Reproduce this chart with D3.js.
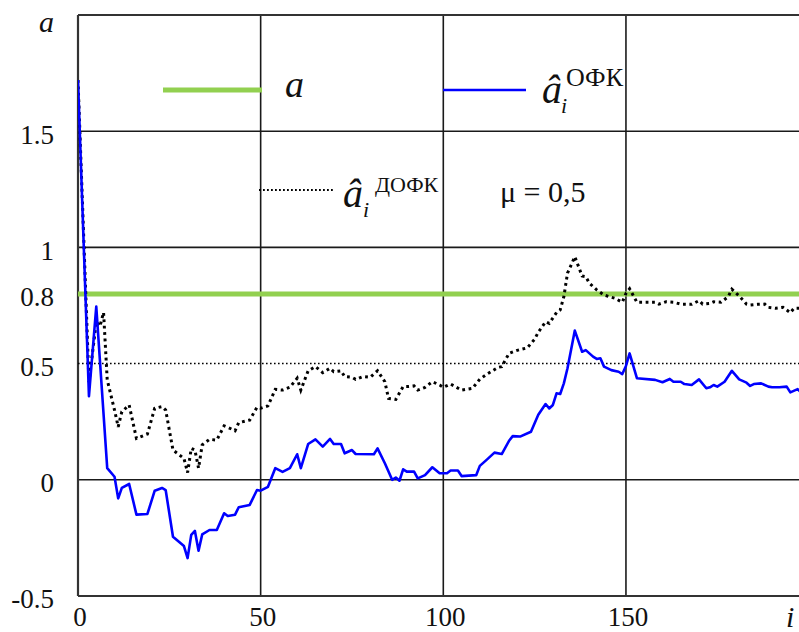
<!DOCTYPE html>
<html>
<head>
<meta charset="utf-8">
<script src="https://cdn.jsdelivr.net/npm/d3@7/dist/d3.min.js"></script>
<style>
  html, body { margin: 0; padding: 0; background: #fff; }
  svg { display: block; }
  svg text { font-family: "Liberation Serif", "Times New Roman", serif; fill: #111; }
</style>
</head>
<body>
<div id="chart"></div>
<script>
// ---- data ----
const ofkI = [0,3,5,8,10,11,12,14,16,19,21,23,24,26,29,30,31,32,33,34,36,38,40,41,43,44,47,49,50,52,54,56,58,60,61,63,65,67,69,70,72,73,75,76,81,82,84,86,87,88,89,90,92,93,95,97,99,101,102,104,105,109,110,112,114,116,118,119,121,124,126,128,129,130,131,132,133,134,136,138,139,141,142,143,144,146,148,149,150,151,153,158,160,162,163,165,166,168,170,172,173,174,175,177,179,181,183,184,185,187,189,190,192,194,195,197,198];
const ofkV = [1.72,0.36,0.745,0.05,0.013,-0.08,-0.035,-0.018,-0.15,-0.147,-0.047,-0.035,-0.044,-0.245,-0.285,-0.337,-0.237,-0.22,-0.305,-0.235,-0.216,-0.216,-0.144,-0.156,-0.15,-0.118,-0.108,-0.044,-0.047,-0.03,0.05,0.034,0.05,0.11,0.05,0.154,0.174,0.143,0.176,0.154,0.154,0.114,0.128,0.111,0.11,0.135,0.071,0.0,0.01,-0.004,0.045,0.035,0.035,0.006,0.02,0.054,0.028,0.028,0.04,0.04,0.016,0.02,0.06,0.088,0.117,0.111,0.168,0.188,0.186,0.207,0.28,0.326,0.307,0.322,0.372,0.369,0.415,0.48,0.642,0.551,0.558,0.53,0.52,0.523,0.487,0.472,0.465,0.455,0.49,0.544,0.437,0.43,0.42,0.434,0.422,0.422,0.412,0.408,0.432,0.394,0.398,0.408,0.401,0.422,0.469,0.432,0.418,0.404,0.412,0.415,0.401,0.398,0.398,0.401,0.376,0.39,0.375];

const dofkI = [0,3,5,6,7,8,9,10,11,12,14,16,19,21,23,24,26,29,30,31,32,33,34,36,38,40,41,43,44,47,49,50,52,54,56,58,60,61,63,65,67,69,70,72,73,75,76,78,80,82,84,85,87,89,90,92,93,95,97,99,100,102,105,108,110,112,115,116,118,120,123,125,126,128,129,131,132,133,134,136,138,139,140,142,144,147,149,150,151,153,158,159,161,163,165,168,170,171,173,174,176,178,179,181,183,184,186,188,189,191,193,195,196,198];
const dofkV = [1.72,0.42,0.68,0.66,0.72,0.43,0.365,0.3,0.228,0.293,0.322,0.178,0.197,0.308,0.315,0.3,0.128,0.092,0.031,0.135,0.128,0.05,0.15,0.174,0.171,0.232,0.226,0.211,0.246,0.257,0.312,0.308,0.318,0.389,0.386,0.398,0.437,0.386,0.469,0.487,0.461,0.48,0.465,0.469,0.444,0.441,0.432,0.444,0.441,0.469,0.422,0.35,0.346,0.401,0.401,0.404,0.386,0.398,0.422,0.408,0.398,0.412,0.386,0.394,0.433,0.455,0.484,0.487,0.544,0.556,0.568,0.605,0.635,0.68,0.673,0.72,0.731,0.788,0.889,0.96,0.877,0.874,0.846,0.817,0.795,0.781,0.764,0.802,0.822,0.764,0.764,0.756,0.766,0.764,0.756,0.755,0.771,0.756,0.759,0.766,0.764,0.788,0.82,0.791,0.756,0.752,0.755,0.756,0.742,0.738,0.742,0.719,0.738,0.738];

const trueA = 0.8;
const muLevel = 0.5;
const yTicks = [-0.5, 0, 0.5, 0.8, 1, 1.5];
const yTickLabels = ["-0.5", "0", "0.5", "0.8", "1", "1.5"];
const yGrid = [0, 1, 1.5];
const xTicks = [0, 50, 100, 150];
const xTickLabels = ["0", "50", "100", "150"];
const xGrid = [50, 100, 150];

// ---- chart ----
const W = 799, H = 632;
const FONT = "'Liberation Serif', 'Times New Roman', serif";
const svg = d3.select("#chart").append("svg").attr("width", W).attr("height", H)
  .attr("font-family", FONT);

const x = d3.scaleLinear().domain([0, 200]).range([78, 808.6]);
const y = d3.scaleLinear().domain([-0.5, 2]).range([596, 15]);

const gridColor = "#1a1a1a";

svg.append("defs").append("clipPath").attr("id", "plot")
  .append("rect").attr("x", x(0)).attr("y", y(2)).attr("width", W - x(0)).attr("height", y(-0.5) - y(2));

// grid
svg.append("g").selectAll("line").data(yGrid).join("line")
  .attr("x1", x(0)).attr("x2", W).attr("y1", d => y(d)).attr("y2", d => y(d))
  .attr("stroke", gridColor).attr("stroke-width", 1.6);
svg.append("g").selectAll("line").data(xGrid).join("line")
  .attr("x1", d => x(d)).attr("x2", d => x(d)).attr("y1", y(2)).attr("y2", y(-0.5))
  .attr("stroke", gridColor).attr("stroke-width", 1.6);

// frame: left, top, bottom
svg.append("line").attr("x1", x(0)).attr("x2", x(0)).attr("y1", y(2)).attr("y2", y(-0.5))
  .attr("stroke", "#333").attr("stroke-width", 2.2);
svg.append("line").attr("x1", x(0)).attr("x2", W).attr("y1", y(2)).attr("y2", y(2))
  .attr("stroke", "#333").attr("stroke-width", 2);
svg.append("line").attr("x1", x(0)).attr("x2", W).attr("y1", y(-0.5)).attr("y2", y(-0.5))
  .attr("stroke", "#333").attr("stroke-width", 2.2);

// dotted 0.5 level
svg.append("line").attr("x1", x(0)).attr("x2", W).attr("y1", y(muLevel)).attr("y2", y(muLevel))
  .attr("stroke", "#000").attr("stroke-width", 1.5).attr("stroke-dasharray", "1.6 2.4");

// green true value
svg.append("line").attr("x1", x(0)).attr("x2", W).attr("y1", y(trueA)).attr("y2", y(trueA))
  .attr("stroke", "#92d050").attr("stroke-width", 5);

const gPlot = svg.append("g").attr("clip-path", "url(#plot)");
const line = d3.line().x(d => x(d[0])).y(d => y(d[1]));

gPlot.append("path").datum(dofkI.map((d, k) => [d, dofkV[k]]))
  .attr("d", line).attr("fill", "none").attr("stroke", "#000")
  .attr("stroke-width", 3).attr("stroke-dasharray", "2.8 3.6");

gPlot.append("path").datum(ofkI.map((d, k) => [d, ofkV[k]]))
  .attr("d", line).attr("fill", "none").attr("stroke", "#0000ff")
  .attr("stroke-width", 2.6).attr("stroke-linejoin", "round");

// y tick labels
svg.append("g").selectAll("text").data(yTicks).join("text")
  .attr("font-family", FONT)
  .attr("x", 54).attr("y", d => y(d) + 3).attr("dy", "0.35em")
  .attr("text-anchor", "end").attr("font-size", 27)
  .text((d, k) => yTickLabels[k]);

// x tick labels
svg.append("g").selectAll("text").data(xTicks).join("text")
  .attr("font-family", FONT)
  .attr("x", d => x(d) + 2).attr("y", 626)
  .attr("text-anchor", "middle").attr("font-size", 27)
  .text((d, k) => xTickLabels[k]);

// axis names
svg.append("text").attr("font-family", FONT).attr("x", 39).attr("y", 32).attr("font-size", 30).attr("font-style", "italic").text("a");
svg.append("text").attr("font-family", FONT).attr("x", 786).attr("y", 627).attr("font-size", 30).attr("font-style", "italic").text("i");

// legend
svg.append("line").attr("x1", 163).attr("x2", 262).attr("y1", 90).attr("y2", 90)
  .attr("stroke", "#92d050").attr("stroke-width", 5);
svg.append("text").attr("font-family", FONT).attr("x", 285).attr("y", 97).attr("font-size", 38).attr("font-style", "italic").text("a");

svg.append("line").attr("x1", 443).attr("x2", 526).attr("y1", 90).attr("y2", 90)
  .attr("stroke", "#0000ff").attr("stroke-width", 2.6);
svg.append("text").attr("font-family", FONT).attr("x", 542).attr("y", 103).attr("font-size", 40).attr("font-style", "italic").text("â");
svg.append("text").attr("font-family", FONT).attr("x", 561).attr("y", 113).attr("font-size", 22).attr("font-style", "italic").text("i");
svg.append("text").attr("font-family", FONT).attr("x", 566).attr("y", 86).attr("font-size", 26).text("ОФК");

svg.append("line").attr("x1", 259).attr("x2", 335).attr("y1", 190).attr("y2", 190)
  .attr("stroke", "#000").attr("stroke-width", 2.2).attr("stroke-dasharray", "1.8 2.2");
svg.append("text").attr("font-family", FONT).attr("x", 343).attr("y", 207).attr("font-size", 40).attr("font-style", "italic").text("â");
svg.append("text").attr("font-family", FONT).attr("x", 363).attr("y", 217).attr("font-size", 22).attr("font-style", "italic").text("i");
svg.append("text").attr("font-family", FONT).attr("x", 375).attr("y", 192).attr("font-size", 22).text("ДОФК");

svg.append("text").attr("font-family", FONT).attr("x", 500).attr("y", 202).attr("font-size", 30).text("μ = 0,5");
</script>
</body>
</html>
